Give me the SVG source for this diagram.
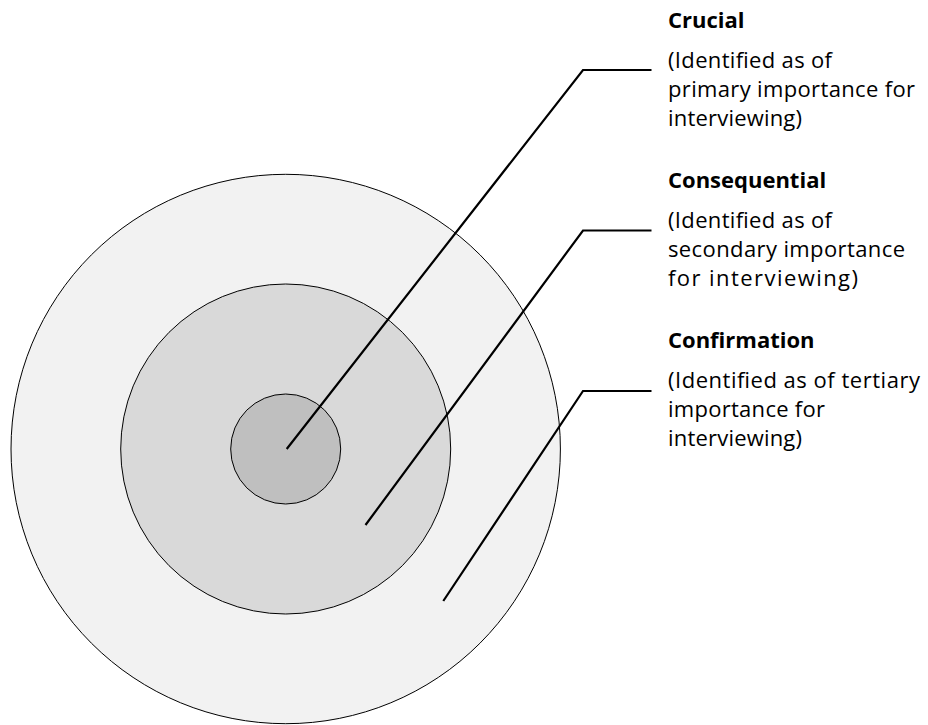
<svg xmlns="http://www.w3.org/2000/svg" width="928" height="725" viewBox="0 0 928 725">
  <style>
    .ring { stroke: #000; stroke-width: 1; }
    .leader { fill: none; stroke: #000; stroke-width: 2.2; stroke-linejoin: miter; }
    .title { font-family: "Open Sans", "Liberation Sans", sans-serif; font-weight: bold; font-size: 22px; fill: #000; }
    .body { font-family: "Open Sans", "Liberation Sans", sans-serif; font-size: 22px; fill: #000; }
  </style>
  <rect width="928" height="725" fill="#fff"/>

  <!-- concentric rings, outermost first -->
  <g id="ring-confirmation">
    <circle class="ring" cx="285.7" cy="449" r="274.7" fill="#f2f2f2"/>
  </g>
  <g id="ring-consequential">
    <circle class="ring" cx="285.7" cy="449" r="165" fill="#d9d9d9"/>
  </g>
  <g id="ring-crucial">
    <circle class="ring" cx="285.7" cy="449" r="55" fill="#bfbfbf"/>
  </g>

  <!-- leader lines from each ring to its label -->
  <g id="connectors">
    <polyline class="leader" points="286.7,449 583,70 651.5,70"/>
    <polyline class="leader" points="365.5,525 583,230.5 651.5,230.5"/>
    <polyline class="leader" points="443.3,601 583,391 651.5,391"/>
  </g>

  <!-- labels -->
  <g id="label-crucial">
    <text class="title" x="668" y="28">Crucial</text>
    <text class="body" x="668" y="68" textLength="164">(Identified as of</text>
    <text class="body" x="668" y="97" textLength="247">primary importance for</text>
    <text class="body" x="668" y="126" textLength="134">interviewing)</text>
  </g>
  <g id="label-consequential">
    <text class="title" x="668" y="188">Consequential</text>
    <text class="body" x="668" y="228" textLength="164">(Identified as of</text>
    <text class="body" x="668" y="257" textLength="237">secondary importance</text>
    <text class="body" x="668" y="286" textLength="190">for interviewing)</text>
  </g>
  <g id="label-confirmation">
    <text class="title" x="668" y="348">Confirmation</text>
    <text class="body" x="668" y="388" textLength="252">(Identified as of tertiary</text>
    <text class="body" x="668" y="417" textLength="157">importance for</text>
    <text class="body" x="668" y="446" textLength="134">interviewing)</text>
  </g>
</svg>
